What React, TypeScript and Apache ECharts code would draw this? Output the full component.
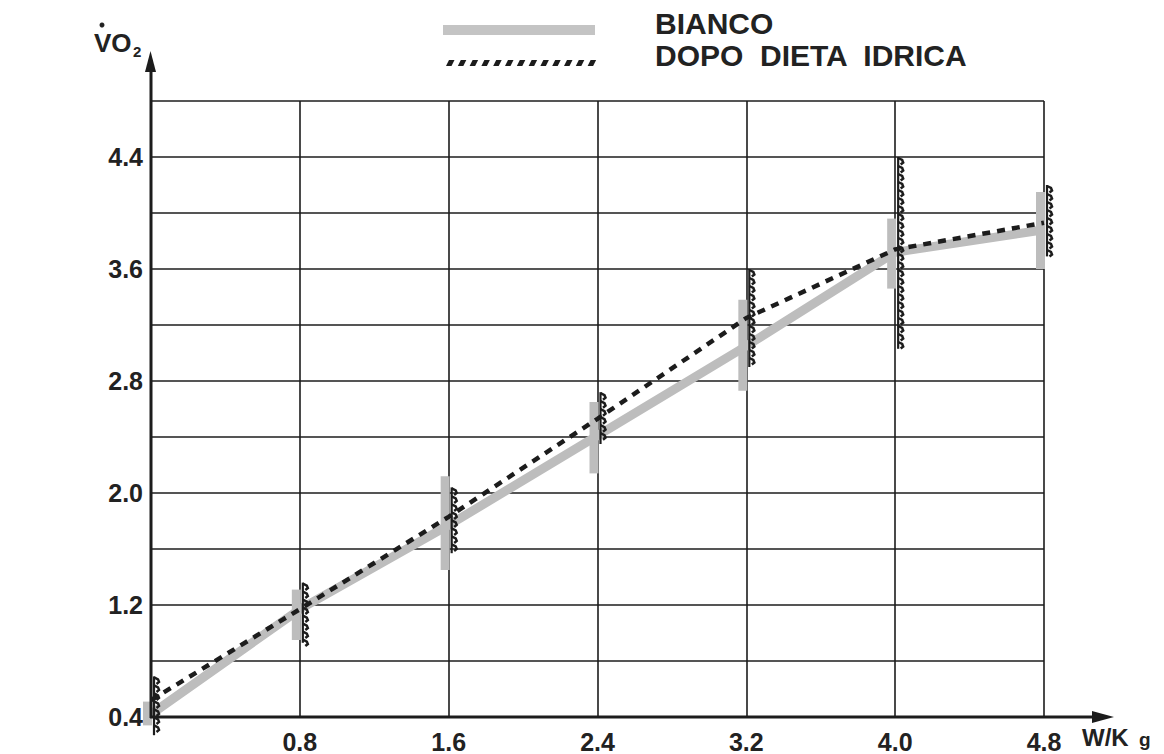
import React, { useEffect, useRef } from "react";
import * as echarts from "echarts";

// W/Kg workload steps
const xValues = [0, 0.8, 1.6, 2.4, 3.2, 4.0, 4.8];
// BIANCO (grey thick line) mean and range
const biancoMean = [0.42, 1.17, 1.77, 2.41, 3.05, 3.72, 3.88];
const biancoLow = [0.34, 0.95, 1.45, 2.14, 2.73, 3.46, 3.6];
const biancoHigh = [0.51, 1.31, 2.12, 2.65, 3.38, 3.96, 4.15];
// DOPO DIETA IDRICA (dashed line) mean and range
const dopoMean = [0.52, 1.17, 1.83, 2.53, 3.25, 3.74, 3.93];
const dopoLow = [0.27, 0.93, 1.57, 2.35, 2.9, 3.03, 3.69];
const dopoHigh = [0.69, 1.36, 2.04, 2.72, 3.6, 4.4, 4.2];

const yTickLabels = ["0.4", "1.2", "2.0", "2.8", "3.6", "4.4"];
const xTickLabels = ["0.8", "1.6", "2.4", "3.2", "4.0", "4.8"];
const legendNames = ["BIANCO", "DOPO  DIETA  IDRICA"];

const FONT = '"Liberation Sans", Arial, Helvetica, sans-serif';
const INK = "#1c1c1c";
const GREY = "#bdbdbd";

export default function App() {
  const ref = useRef<HTMLDivElement>(null);

  useEffect(() => {
    const chart = echarts.init(ref.current!, null, { renderer: "svg" });

    const greyBar = (params: any, api: any) => {
      const t = api.coord([api.value(0), api.value(2)]);
      const b = api.coord([api.value(0), api.value(1)]);
      return {
        type: "rect",
        shape: { x: t[0] - 8, y: t[1], width: 9, height: b[1] - t[1] },
        style: { fill: GREY },
      };
    };

    const hatchedBar = (params: any, api: any) => {
      const t = api.coord([api.value(0), api.value(2)]);
      const b = api.coord([api.value(0), api.value(1)]);
      const cx = t[0] + 3;
      const children: any[] = [
        {
          type: "line",
          shape: { x1: cx, y1: t[1], x2: cx, y2: b[1] },
          style: { stroke: INK, lineWidth: 2.2 },
        },
      ];
      for (let y = t[1] + 1; y < b[1] - 3; y += 8) {
        children.push({
          type: "polyline",
          shape: {
            points: [
              [cx, y],
              [cx + 4, y + 2],
              [cx + 5, y + 4.5],
              [cx + 2.5, y + 6.5],
            ],
          },
          style: { stroke: INK, lineWidth: 2.5, fill: "none" },
        });
      }
      return { type: "group", children };
    };

    const option: any = {
      animation: false,
      backgroundColor: "#ffffff",
      grid: { left: 151, right: 120, top: 101, bottom: 36 },
      xAxis: {
        type: "value",
        min: 0,
        max: 4.8,
        interval: 0.8,
        axisLine: { show: false },
        axisTick: { show: false },
        splitLine: { show: true, lineStyle: { color: INK, width: 1.6 } },
        axisLabel: {
          margin: 12,
          fontSize: 25,
          fontWeight: "bold",
          color: "#222",
          fontFamily: FONT,
          formatter: (v: number) => {
            const s = v.toFixed(1);
            return xTickLabels.includes(s) ? s : "";
          },
        },
      },
      yAxis: {
        type: "value",
        min: 0.4,
        max: 4.8,
        interval: 0.4,
        axisLine: { show: false },
        axisTick: { show: false },
        splitLine: { show: true, lineStyle: { color: INK, width: 1.6 } },
        axisLabel: {
          margin: 8,
          fontSize: 25,
          fontWeight: "bold",
          color: "#222",
          fontFamily: FONT,
          formatter: (v: number) => {
            const s = v.toFixed(1);
            return yTickLabels.includes(s) ? s : "";
          },
        },
      },
      series: [
        {
          type: "line",
          name: legendNames[0],
          data: xValues.map((x, i) => [x, biancoMean[i]]),
          symbol: "none",
          lineStyle: { color: GREY, width: 9, cap: "butt", join: "miter" },
          z: 2,
        },
        {
          type: "custom",
          name: legendNames[0] + " range",
          data: xValues.map((x, i) => [x, biancoLow[i], biancoHigh[i]]),
          renderItem: greyBar,
          encode: { x: 0, y: [1, 2] },
          clip: false,
          z: 3,
        },
        {
          type: "line",
          name: legendNames[1],
          data: xValues.map((x, i) => [x, dopoMean[i]]),
          symbol: "none",
          lineStyle: { color: INK, width: 4.5, type: [8, 7], cap: "butt" },
          z: 4,
        },
        {
          type: "custom",
          name: legendNames[1] + " range",
          data: xValues.map((x, i) => [x, dopoLow[i], dopoHigh[i]]),
          renderItem: hatchedBar,
          encode: { x: 0, y: [1, 2] },
          clip: false,
          z: 5,
        },
      ],
    };
    chart.setOption(option);

    const o = chart.convertToPixel({ gridIndex: 0 }, [0, 0.4]) as number[];
    const e = chart.convertToPixel({ gridIndex: 0 }, [4.8, 4.8]) as number[];

    const dashes: any[] = [];
    for (let i = 0; i < 13; i++) {
      const x0 = 446 + i * 11.8;
      dashes.push({
        type: "polygon",
        shape: {
          points: [
            [x0, 66],
            [x0 + 3, 60],
            [x0 + 8.5, 60],
            [x0 + 5.5, 66],
          ],
        },
        style: { fill: INK },
      });
    }

    chart.setOption({
      graphic: [
        // y axis with arrow
        {
          type: "line",
          shape: { x1: o[0], y1: o[1] + 1, x2: o[0], y2: 60 },
          style: { stroke: INK, lineWidth: 3 },
          z: 10,
        },
        {
          type: "polygon",
          shape: {
            points: [
              [o[0] - 0.5, 51],
              [o[0] - 6, 72],
              [o[0] + 5, 72],
            ],
          },
          style: { fill: INK },
          z: 10,
        },
        // x axis with arrow
        {
          type: "line",
          shape: { x1: o[0] - 1, y1: o[1], x2: e[0] + 55, y2: o[1] },
          style: { stroke: INK, lineWidth: 3 },
          z: 10,
        },
        {
          type: "polygon",
          shape: {
            points: [
              [e[0] + 70, o[1]],
              [e[0] + 48, o[1] - 6],
              [e[0] + 48, o[1] + 6],
            ],
          },
          style: { fill: INK },
          z: 10,
        },
        // axis titles
        {
          type: "text",
          x: 94,
          y: 30,
          style: { text: "VO", fontSize: 26, fontWeight: "bold", fontFamily: FONT, fill: "#222" },
          z: 10,
        },
        {
          type: "circle",
          shape: { cx: 102, cy: 25, r: 2.5 },
          style: { fill: "#222" },
          z: 10,
        },
        {
          type: "text",
          x: 133,
          y: 44,
          style: { text: "2", fontSize: 15, fontWeight: "bold", fontFamily: FONT, fill: "#222" },
          z: 10,
        },
        {
          type: "text",
          x: 1082,
          y: 725,
          style: { text: "W/K", fontSize: 24, fontWeight: "bold", fontFamily: FONT, fill: "#222" },
          z: 10,
        },
        {
          type: "text",
          x: 1139,
          y: 730,
          style: { text: "g", fontSize: 19, fontWeight: "bold", fontFamily: FONT, fill: "#222" },
          z: 10,
        },
        // legend
        {
          type: "rect",
          shape: { x: 443, y: 25, width: 152, height: 10 },
          style: { fill: "#c4c4c4" },
          z: 10,
        },
        ...dashes,
        {
          type: "text",
          x: 655,
          y: 8,
          style: { text: legendNames[0], fontSize: 30, fontWeight: "bold", fontFamily: FONT, fill: "#222" },
          z: 10,
        },
        {
          type: "text",
          x: 655,
          y: 40,
          style: { text: legendNames[1], fontSize: 30, fontWeight: "bold", fontFamily: FONT, fill: "#222" },
          z: 10,
        },
      ],
    });

    return () => chart.dispose();
  }, []);

  return (
    <div
      ref={ref}
      style={{ position: "fixed", left: 0, top: 0, width: 1164, height: 754, background: "#fff" }}
    />
  );
}
